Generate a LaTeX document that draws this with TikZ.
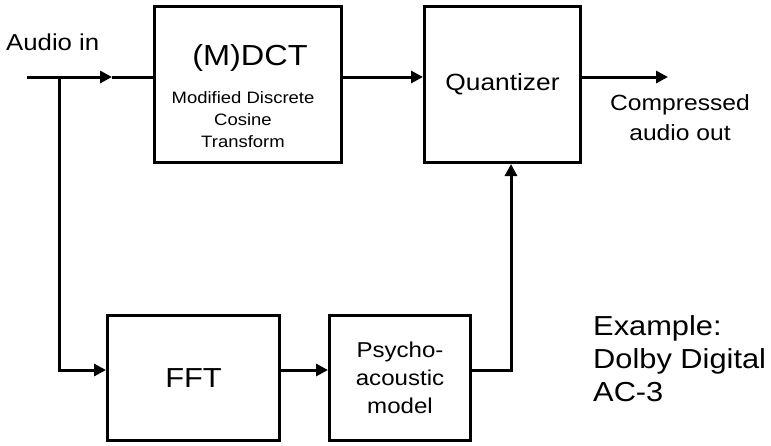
\documentclass[tikz,border=0pt]{standalone}
\usepackage{fontspec}
\setmainfont{Liberation Sans}[FakeStretch=1.12]
\usetikzlibrary{positioning, arrows.meta}

\begin{document}
\begin{tikzpicture}[x=1pt, y=-1pt,
  blk/.style={draw, line width=3pt, inner sep=0pt, align=center},
  conn/.style={line width=3pt},
  arrow/.style={-{Triangle[length=12pt, width=12pt]}, line width=3pt},
  lbl/.style={inner sep=0pt, align=center}]
  \useasboundingbox (0,0) rectangle (771,445);

  \node[blk, minimum width=187pt, minimum height=156pt] (mdct) at (248,84.5) {};
  \node[lbl, anchor=base, font=\fontsize{29}{34}\selectfont] (mdcttitle) at (250,65) {(M)DCT};
  \node[lbl, anchor=north, font=\fontsize{16.5}{22}\selectfont] (mdctsub) at (243,91) {Modified Discrete\\Cosine\\Transform};
  \node[blk, minimum width=156pt, minimum height=156pt, right=80pt of mdct, font=\fontsize{23.5}{28}\selectfont] (quant) {Quantizer};
  \node[blk, minimum width=172pt, minimum height=125pt, font=\fontsize{27.5}{32}\selectfont] (fft) at (193.5,378) {FFT};
  \node[blk, minimum width=141pt, minimum height=125pt, right=47pt of fft, font=\fontsize{21.5}{28}\selectfont] (psy) {Psycho-\\acoustic\\model};

  \node[lbl, anchor=base west, font=\fontsize{23}{28}\selectfont] (audioin) at (6,50) {Audio in};
  \node[lbl, font=\fontsize{22}{30}\selectfont] (outlbl) at (680,118) {Compressed\\audio out};
  \node[lbl, anchor=north west, align=left, font=\fontsize{27.5}{33}\selectfont] (example) at (593,315) {Example:\\Dolby Digital\\AC-3};

  \coordinate (ain) at (27,77);
  \coordinate (tap) at (59,77);
  \coordinate (amid) at (112,77);
  \coordinate (aout) at (668,77);

  \draw[arrow] (ain) -- (amid);
  \draw[conn] (amid) -- (mdct.west |- amid);
  \draw[arrow] (tap) |- ([yshift=8pt]fft.west);
  \draw[arrow] (mdct.east |- amid) -- (quant.west |- amid);
  \draw[arrow] (quant.east |- amid) -- (aout);
  \draw[arrow] ([yshift=8pt]fft.east) -- ([yshift=8pt]psy.west);
  \draw[arrow] ([yshift=8pt]psy.east) -| ([xshift=8.5pt]quant.south);
\end{tikzpicture}
\end{document}
